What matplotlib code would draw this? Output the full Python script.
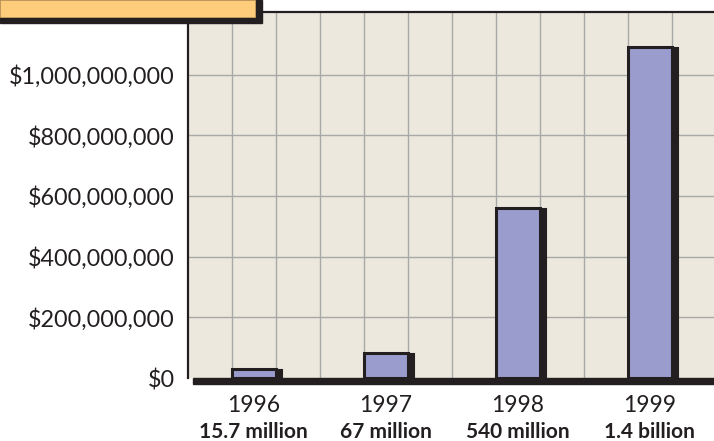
import matplotlib.pyplot as plt
import matplotlib.transforms as mtransforms
from matplotlib.patches import Rectangle

# data
years = ['1996', '1997', '1998', '1999']
sublabels = ['15.7 million', '67 million', '540 million', '1.4 billion']
values = [30e6, 81e6, 560e6, 1090e6]
yticks = [0, 200e6, 400e6, 600e6, 800e6, 1000e6]
ytick_labels = ['$0', '$200,000,000', '$400,000,000', '$600,000,000',
                '$800,000,000', '$1,000,000,000']

W, H = 714, 441
dark = '#231f20'

plt.rcParams['font.family'] = ['Lato', 'DejaVu Sans']

fig = plt.figure(figsize=(W / 100, H / 100), dpi=100)

# axes placed in pixel terms
left, right, top, bottom = 187.5, 714, 12, 378
ax = fig.add_axes([left / W, 1 - bottom / H, (right - left) / W, (bottom - top) / H])
ax.set_facecolor('#ece8de')

cell = 44.0
ax.set_xlim(0, (right - left) / cell)
ax.set_ylim(0, 1.206e9)

# grid: one cell per bar width, 200M horizontal
for k in range(1, 12):
    ax.axvline(k, color='#a8a8a8', lw=1.0, zorder=1)
for v in yticks[1:]:
    ax.axhline(v, color='#a8a8a8', lw=1.0, zorder=1)

xpos = [1.5 + 3 * i for i in range(len(years))]

# bar drop shadow, shifted right
shift = mtransforms.ScaledTranslation(6 / 100, -1 / 100, fig.dpi_scale_trans)
ax.bar(xpos, values, width=1, color=dark, edgecolor=dark, lw=1.5,
       transform=ax.transData + shift, zorder=2, clip_on=False)
ax.bar(xpos, values, width=1, color='#999ccc', edgecolor=dark, lw=2.2, zorder=3)

ax.set_yticks(yticks)
ax.set_yticklabels(ytick_labels, fontsize=16.8, color=dark)
ax.tick_params(axis='y', length=0, pad=9)
ax.set_xticks([])

for s in ['top', 'left']:
    ax.spines[s].set_color(dark)
    ax.spines[s].set_linewidth(1.6)
ax.spines['right'].set_visible(False)
ax.spines['bottom'].set_visible(False)

for x, yr, sub in zip(xpos, years, sublabels):
    ax.annotate(yr, xy=(x, 0), xycoords=('data', 'axes fraction'),
                xytext=(0, -27), textcoords='offset pixels',
                ha='center', va='center', fontsize=16.5, color=dark)
    ax.annotate(sub, xy=(x, 0), xycoords=('data', 'axes fraction'),
                xytext=(0, -54), textcoords='offset pixels',
                ha='center', va='center', fontsize=15, fontweight='bold', color=dark)

# thick frame shadow under the x axis
fig.patches.append(Rectangle((192.7 / W, 1 - 384 / H), (W - 192.7) / W, 6.5 / H,
                             transform=fig.transFigure, color=dark, zorder=5))

# orange title box cut off at top left
fig.patches.append(Rectangle((0, 1 - 23 / H), 262 / W, 23 / H,
                             transform=fig.transFigure, color=dark, zorder=6))
fig.patches.append(Rectangle((0, 1 - 17 / H), 255 / W, 17 / H,
                             transform=fig.transFigure, facecolor='#fecc7b',
                             edgecolor='#c9a060', lw=0.6, zorder=7))

fig.savefig('out.png', dpi=100)
